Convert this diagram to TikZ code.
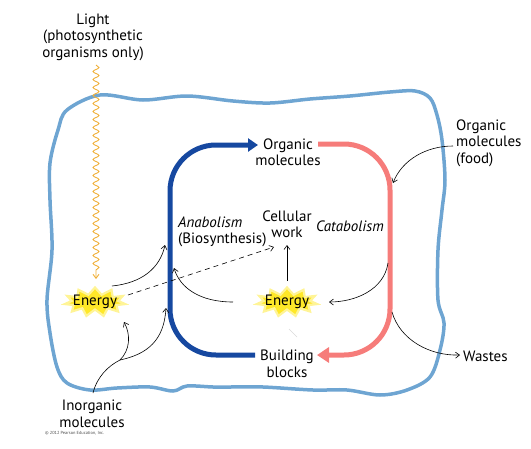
\documentclass[tikz,border=0pt]{standalone}
\usepackage{fontspec}
\setmainfont{PT Sans}
\usetikzlibrary{arrows.meta,shapes.symbols,decorations.pathmorphing,calc}
\definecolor{membrane}{RGB}{110,165,210}
\definecolor{anabol}{RGB}{22,72,160}
\definecolor{catabol}{RGB}{246,124,122}
\definecolor{lightw}{RGB}{240,175,55}
\definecolor{burst}{RGB}{255,232,40}
\definecolor{glow}{RGB}{255,244,150}
\begin{document}
\begin{tikzpicture}[x=1pt,y=-1pt,
  lbl/.style={font=\fontsize{15}{16.5}\selectfont, align=center, inner sep=0pt},
  ital/.style={lbl, font=\fontsize{15}{16.5}\selectfont\itshape},
  burstshape/.style={starburst, starburst points=11, starburst point height=7pt, random starburst=0,
     fill=burst, draw=glow, line width=2.2pt, minimum width=61pt, minimum height=29pt, inner sep=0pt},
  energy/.style={font=\fontsize{15}{16.5}\selectfont, inner sep=1pt},
  thin/.style={draw=black, line width=0.6pt, -{Straight Barb[length=4pt,width=6pt]}},
  bigpath/.style={line width=5pt, rounded corners=46pt}
]
\useasboundingbox (0,0) rectangle (531,448);
% membrane
\draw[membrane, line width=3.5pt] plot[smooth cycle, tension=0.55] coordinates {
 (100,95) (143,100) (187,96) (233,101) (270,103) (310,99) (350,96) (390,92) (415,91)
 (430,98) (437,115) (442,140) (445,180) (442,210) (438,250) (438,300) (444,323) (440,350)
 (430,377) (407,390) (380,395) (347,390) (313,390) (263,387) (230,387) (213,387) (187,386)
 (173,391) (150,387) (117,388) (90,390) (67,383) (57,367) (50,333) (47,300) (52,250)
 (50,200) (50,163) (58,130) (67,110)};
% labels
\node[lbl] (light) at (93,37) {Light\\(photosynthetic\\organisms only)};
\node[lbl] (orgmol) at (288,152) {Organic\\molecules};
\node[lbl] (cellwork) at (287,224) {Cellular\\work};
\node[lbl, align=left, anchor=west] (anab) at (178,232) {\itshape Anabolism\\(Biosynthesis)};
\node[ital] (catab) at (350,226) {Catabolism};
\node[lbl, align=left, anchor=west] (food) at (456,143) {Organic\\molecules\\(food)};
\node[lbl, anchor=west] (wastes) at (463,356) {Wastes};
\node[lbl] (build) at (287,364) {Building\\blocks};
\node[lbl] (inorg) at (92,414) {Inorganic\\molecules};
\node[inner sep=0pt, anchor=west, font=\fontsize{4.4}{5}\selectfont, text=black!70] (copy) at (45,433) {\textcopyright\ 2012 Pearson Education, Inc.};
\node[burstshape] (eLb) at (95,302) {};
\node[energy] (eL) at (95,302) {Energy};
\node[burstshape] (eRb) at (287,302) {};
\node[energy] (eR) at (287,302) {Energy};
% light wave
\coordinate (lwS) at (96,65);
\coordinate (lwE) at (96,279);
\draw[lightw, line width=0.9pt, decorate, decoration={snake, amplitude=3pt, segment length=8pt, post length=7pt},
  -{Straight Barb[length=4pt,width=6pt]}] (lwS) -- (lwE);
% anabolism (blue) and catabolism (red)
\coordinate (bS) at (255,355);
\coordinate (bL1) at (170,355);
\coordinate (bL2) at (170,145);
\coordinate (bE) at (258,145);
\draw[anabol, bigpath, -{Triangle[length=10pt,width=13pt]}] (bS) -- (bL1) -- (bL2) -- (bE);
\coordinate (rS) at (318,144);
\coordinate (rR1) at (390,144);
\coordinate (rR2) at (390,355);
\coordinate (rE) at (317,355);
\draw[catabol, bigpath, -{Triangle[length=12pt,width=15pt]}] (rS) -- (rR1) -- (rR2) -- (rE);
% thin arrows
\coordinate (a1s) at (112,286);
\coordinate (a1e) at (165,245);
\draw[thin] (a1s) .. controls (142,283) and (160,268) .. (a1e);
\coordinate (dS) at (128,295);
\coordinate (dE) at (274,247);
\draw[thin, dashed, dash pattern=on 5pt off 4pt] (dS) -- (dE);
\coordinate (a3s) at (233,302);
\coordinate (a3e) at (174,268);
\draw[thin] (a3s) .. controls (200,302) and (180,288) .. (a3e);
\coordinate (a4s) at (287,281);
\coordinate (a4e) at (287,245);
\draw[thin] (a4s) -- (a4e);
\coordinate (a5s) at (388,263);
\coordinate (a5e) at (329,302);
\draw[thin] (a5s) .. controls (384,290) and (355,302) .. (a5e);
\coordinate (a6s) at (392,312);
\coordinate (a6e) at (460,355);
\draw[thin] (a6s) .. controls (400,340) and (430,356) .. (a6e);
\coordinate (a7s) at (453,146);
\coordinate (a7e) at (393,183);
\draw[thin] (a7s) .. controls (426,146) and (402,160) .. (a7e);
\coordinate (iS) at (93,393);
\coordinate (iB) at (120,360);
\coordinate (iE1) at (124,322);
\coordinate (iE2) at (166,308);
\draw[line width=0.6pt] (iS) .. controls (97,377) and (108,366) .. (iB);
\draw[thin] (iB) .. controls (130,350) and (131,335) .. (iE1);
\draw[thin] (iB) .. controls (148,354) and (164,340) .. (iE2);
% faint mark
\coordinate (fS) at (297,337);
\coordinate (fE) at (289,329);
\draw[black!15, line width=0.5pt] (fS) -- (fE);
\end{tikzpicture}
\end{document}
